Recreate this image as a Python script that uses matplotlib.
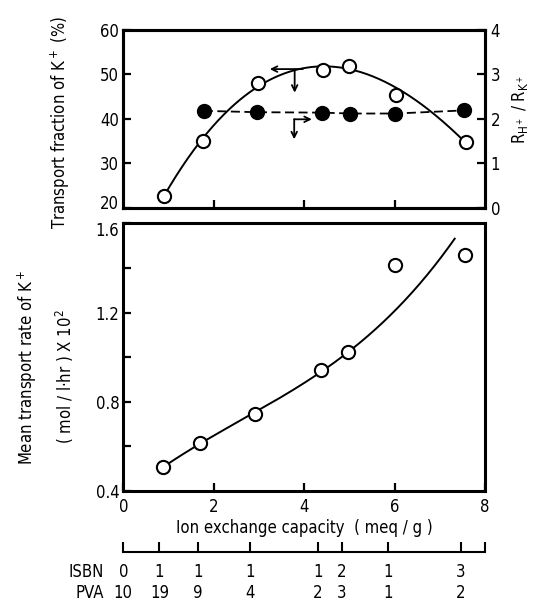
import numpy as np
import matplotlib
matplotlib.use("Agg")
import matplotlib.pyplot as plt
from matplotlib.transforms import ScaledTranslation

plt.rcParams["font.family"] = ["DejaVu Sans"]
plt.rcParams["font.stretch"] = "condensed"
plt.rcParams["mathtext.default"] = "regular"

# ion exchange capacity (meq/g) vs transport fraction of K+ (%)
cap_frac = [0.89, 1.76, 2.97, 4.41, 5.00, 6.03, 7.57]
frac_k = [22.7, 35.0, 48.0, 51.1, 52.0, 45.3, 34.8]
# R_H+ / R_K+
cap_ratio = [1.78, 2.95, 4.40, 5.02, 6.02, 7.53]
ratio_hk = [2.18, 2.15, 2.14, 2.12, 2.12, 2.19]
# mean transport rate of K+ (mol / l.hr x 10^2)
cap_rate = [0.88, 1.70, 2.91, 4.38, 4.96, 6.02, 7.56]
rate_k = [0.506, 0.617, 0.744, 0.942, 1.024, 1.413, 1.458]

# hand drawn trend curves
trend_top_x = [0.89, 1.76, 2.97, 3.88, 4.70, 5.24, 6.03, 6.67, 7.57]
trend_top_y = [22.7, 35.0, 48.0, 50.8, 51.4, 50.8, 47.4, 42.2, 34.8]
trend_bot_x = [0.88, 1.70, 2.91, 4.38, 4.96, 6.02, 7.33]
trend_bot_y = [0.506, 0.617, 0.744, 0.942, 1.024, 1.204, 1.533]

# membrane composition ISBN : PVA
comp_cap = [0.0, 0.8, 1.65, 2.8, 4.3, 4.83, 5.86, 7.47, 8.0]
isbn = ["0", "1", "1", "1", "1", "2", "1", "3", ""]
pva = ["10", "19", "9", "4", "2", "3", "1", "2", ""]

W, H = 539, 602
fig = plt.figure(figsize=(W / 100, H / 100), dpi=100, facecolor="white")
L, R = 123.3 / W, (485 - 123.3) / W
ax1 = fig.add_axes([L, 1 - 207.7 / H, R, 177.7 / H])
ax2 = fig.add_axes([L, 1 - 491 / H, R, 267.7 / H])
axr = ax1.twinx()
ax3 = fig.add_axes([L, 1 - 551.7 / H, R, 0.02])

fs = 12
for ax in (ax1, ax2, axr):
    for s in ax.spines.values():
        s.set_linewidth(2.2)
    ax.tick_params(direction="in", length=6, width=1.6, labelsize=fs, pad=3)
    ax.set_xlim(0, 8)

# top panel
xs = np.linspace(trend_top_x[0], trend_top_x[-1], 200)
ax1.plot(xs, np.polyval(np.polyfit(trend_top_x, trend_top_y, 3), xs), color="black", lw=1.4)
ax1.plot(cap_frac, frac_k, "o", ms=9.5, mfc="white", mec="black", mew=1.5)
ax1.set_ylim(20, 60)
ax1.set_yticks([20, 30, 40, 50, 60])
ax1.set_xticks([2, 4, 6])
ax1.tick_params(axis="x", labelbottom=False)

axr.plot(cap_ratio, ratio_hk, "o", ms=10, color="black", ls=(0, (5, 2.5)), lw=1.3)
axr.set_ylim(0, 4)
axr.set_yticks([0, 1, 2, 3, 4])
axr.tick_params(axis="y", pad=4)

arr = dict(arrowstyle="->", lw=1.3, color="black", shrinkA=0, shrinkB=0)
ax1.annotate("", xy=(3.24, 51.2), xytext=(3.97, 51.2), arrowprops=arr)
ax1.annotate("", xy=(3.79, 45.9), xytext=(3.79, 51.2), arrowprops=arr)
ax1.annotate("", xy=(4.17, 39.9), xytext=(3.78, 39.9), arrowprops=arr)
ax1.annotate("", xy=(3.78, 35.4), xytext=(3.78, 39.9), arrowprops=arr)

# bottom panel
xs = np.linspace(trend_bot_x[0], trend_bot_x[-1], 200)
ax2.plot(xs, np.polyval(np.polyfit(trend_bot_x, trend_bot_y, 3), xs), color="black", lw=1.4)
ax2.plot(cap_rate, rate_k, "o", ms=9.5, mfc="white", mec="black", mew=1.5)
ax2.set_ylim(0.4, 1.6)
ax2.set_yticks([0.4, 0.8, 1.2, 1.6])
ax2.set_yticks([0.6, 1.0, 1.4], minor=True)
ax2.tick_params(axis="y", which="minor", direction="in", length=6, width=1.6)
ax2.set_xticks([0, 2, 4, 6, 8])
ax2.tick_params(axis="x", pad=5)
ax2.set_xlabel("Ion exchange capacity  ( meq / g )", fontsize=fs, labelpad=2)

# keep the "20" and "1.6" labels apart, as in the original
lab20 = ax1.get_yticklabels()[0]
lab20.set_transform(lab20.get_transform() + ScaledTranslation(0, 4 / 72, fig.dpi_scale_trans))
lab16 = ax2.get_yticklabels()[-1]
lab16.set_transform(lab16.get_transform() + ScaledTranslation(0, -4 / 72, fig.dpi_scale_trans))

# composition scale
ax3.set_xlim(0, 8)
ax3.set_yticks([])
for k in ("top", "left", "right"):
    ax3.spines[k].set_visible(False)
ax3.spines["bottom"].set_linewidth(1.5)
ax3.patch.set_visible(False)
ax3.set_xticks(comp_cap, [f"{a}\n{b}" for a, b in zip(isbn, pva)])
ax3.tick_params(axis="x", direction="in", length=7, width=1.5, labelsize=fs, pad=8)
for t in ax3.get_xticklabels():
    t.set_linespacing(1.25)
ax3.annotate("ISBN\nPVA", xy=(0, 0), xycoords=("data", "axes fraction"),
             xytext=(-14, -8), textcoords="offset points", ha="right", va="top",
             fontsize=fs, linespacing=1.25)

# axis titles
fig.text(60 / W, 1 - 122 / H, "Transport fraction of K$^+$ (%)", rotation=90,
         ha="center", va="center", fontsize=fs)
fig.text(520 / W, 1 - 109 / H, "R$_{H^+}$ / R$_{K^+}$", rotation=90,
         ha="center", va="center", fontsize=fs)
fig.text(27 / W, 1 - 367 / H, "Mean transport rate of K$^+$", rotation=90,
         ha="center", va="center", fontsize=fs)
fig.text(65 / W, 1 - 377 / H, "( mol / l\u00b7hr ) X 10$^2$", rotation=90,
         ha="center", va="center", fontsize=fs)

fig.savefig("out.png", dpi=100)
